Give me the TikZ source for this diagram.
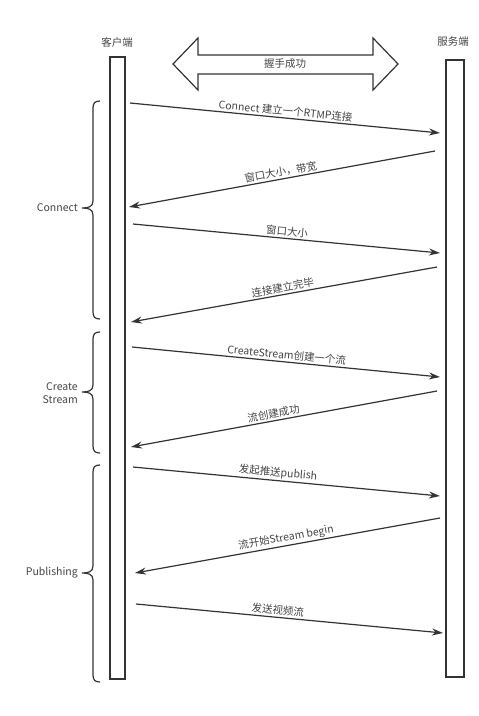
\documentclass[tikz,border=0pt]{standalone}
\usepackage{fontspec}
\setmainfont{Noto Sans CJK SC}
\usetikzlibrary{arrows.meta}
\definecolor{ink}{HTML}{333333}
\definecolor{txt}{HTML}{444444}
\tikzset{
  lifeline/.style={draw=ink, line width=1.3pt, fill=white, minimum width=15pt, inner sep=0pt},
  msg/.style={draw=ink, line width=1.2pt, -{Stealth[length=11pt,width=7pt]}},
  lbl/.style={midway, above, sloped, inner sep=1.5pt, text=txt, font=\fontsize{10.5}{12}\selectfont},
  plain/.style={text=txt, font=\fontsize{10.5}{13}\selectfont, inner sep=1pt},
  brace/.style={draw=ink, line width=1.2pt}
}
\begin{document}
\begin{tikzpicture}[x=1pt,y=-1pt]
\useasboundingbox (0,0) rectangle (479,716);
% lifelines
\node[lifeline, minimum width=15pt, minimum height=622pt] (client) at (117.5,368) {};
\node[lifeline, minimum width=18pt, minimum height=617pt] (server) at (455,368.5) {};
\node[plain] (clientlbl) at (117,42) {客户端};
\node[plain] (serverlbl) at (453,42) {服务端};
% handshake double arrow
\draw[ink, line width=1.2pt, fill=white] (173,64) -- (198,38) -- (198,55) -- (373,55) -- (373,38) -- (398,64) -- (373,90) -- (373,74) -- (198,74) -- (198,90) -- cycle;
\node[plain] (hs) at (285,64) {握手成功};
% endpoints
\coordinate (a1s) at (130,103); \coordinate (a1e) at (440,133);
\coordinate (a2s) at (435,151); \coordinate (a2e) at (129,207);
\coordinate (a3s) at (133,224); \coordinate (a3e) at (440,253);
\coordinate (a4s) at (437,267); \coordinate (a4e) at (131,322);
\coordinate (a5s) at (132,347); \coordinate (a5e) at (440,377);
\coordinate (a6s) at (437,391); \coordinate (a6e) at (131,447);
\coordinate (a7s) at (133,467); \coordinate (a7e) at (440,496);
\coordinate (a8s) at (440,518); \coordinate (a8e) at (135,573);
\coordinate (a9s) at (136,604); \coordinate (a9e) at (443,633);
\draw[msg] (a1s) -- node[lbl] (l1) {Connect 建立一个RTMP连接} (a1e);
\draw[msg] (a2s) -- node[lbl] (l2) {窗口大小，带宽} (a2e);
\draw[msg] (a3s) -- node[lbl] (l3) {窗口大小} (a3e);
\draw[msg] (a4s) -- node[lbl] (l4) {连接建立完毕} (a4e);
\draw[msg] (a5s) -- node[lbl] (l5) {CreateStream创建一个流} (a5e);
\draw[msg] (a6s) -- node[lbl, pos=0.53] (l6) {流创建成功} (a6e);
\draw[msg] (a7s) -- node[lbl, pos=0.47] (l7) {发起推送publish} (a7e);
\draw[msg] (a8s) -- node[lbl] (l8) {流开始Stream begin} (a8e);
\draw[msg] (a9s) -- node[lbl, pos=0.46] (l9) {发送视频流} (a9e);
% braces
\draw[brace] (100,101) .. controls (95,101) and (93,103) .. (93,108) -- (93,201) .. controls (93,207) and (88,208) .. (82,208) .. controls (88,208) and (93,209) .. (93,215) -- (93,312) .. controls (93,317) and (95,319) .. (100,319);
\draw[brace] (100,332) .. controls (95,332) and (93,334) .. (93,339) -- (93,385) .. controls (93,391) and (88,392) .. (82,392) .. controls (88,392) and (93,393) .. (93,399) -- (93,446) .. controls (93,451) and (95,453) .. (100,453);
\draw[brace] (100,465) .. controls (95,465) and (93,467) .. (93,472) -- (93,566) .. controls (93,572) and (88,573) .. (82,573) .. controls (88,573) and (93,574) .. (93,580) -- (93,675) .. controls (93,680) and (95,682) .. (100,682);
\node[plain, anchor=east] (g1) at (79,208) {Connect};
\node[plain, anchor=east, align=right] (g2) at (79,393) {Create\\Stream};
\node[plain, anchor=east] (g3) at (79,573) {Publishing};
\end{tikzpicture}
\end{document}
